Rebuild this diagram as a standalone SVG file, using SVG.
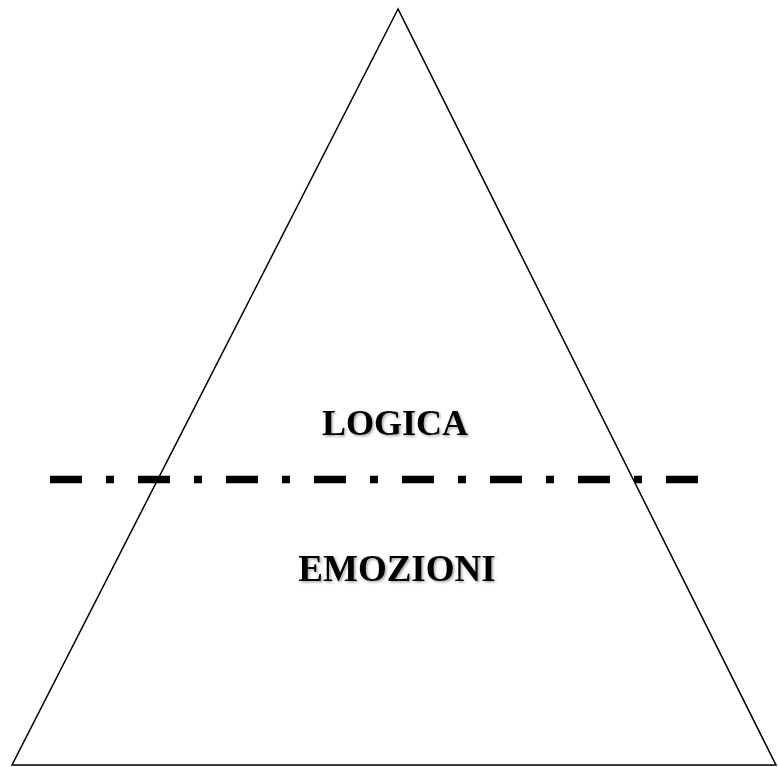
<svg xmlns="http://www.w3.org/2000/svg" width="778" height="767" viewBox="0 0 778 767">
<style>
.lbl{font-family:"Liberation Serif","Times New Roman",serif;font-weight:bold;font-size:36px;fill:#000;text-anchor:middle;filter:url(#sh)}
</style>
<defs>
<filter id="sh" x="-10%" y="-30%" width="120%" height="160%">
<feDropShadow dx="1.5" dy="1.5" stdDeviation="1" flood-color="#000" flood-opacity="0.35"/>
</filter>
</defs>
<rect width="778" height="767" fill="#fff"/>
<g id="triangle">
<polygon points="398,9 12,765 776,765" fill="none" stroke="#000" stroke-width="1.5" stroke-linejoin="miter"/>
</g>
<g id="connectors">
<line x1="50" y1="479.5" x2="698" y2="479.5" stroke="#000" stroke-width="7.5" stroke-dasharray="32 24 8 24"/>
</g>
<g id="logica"><text class="lbl" x="395" y="435">LOGICA</text></g>
<g id="emozioni"><text class="lbl" x="397" y="581" style="font-size:37px">EMOZIONI</text></g>
</svg>
